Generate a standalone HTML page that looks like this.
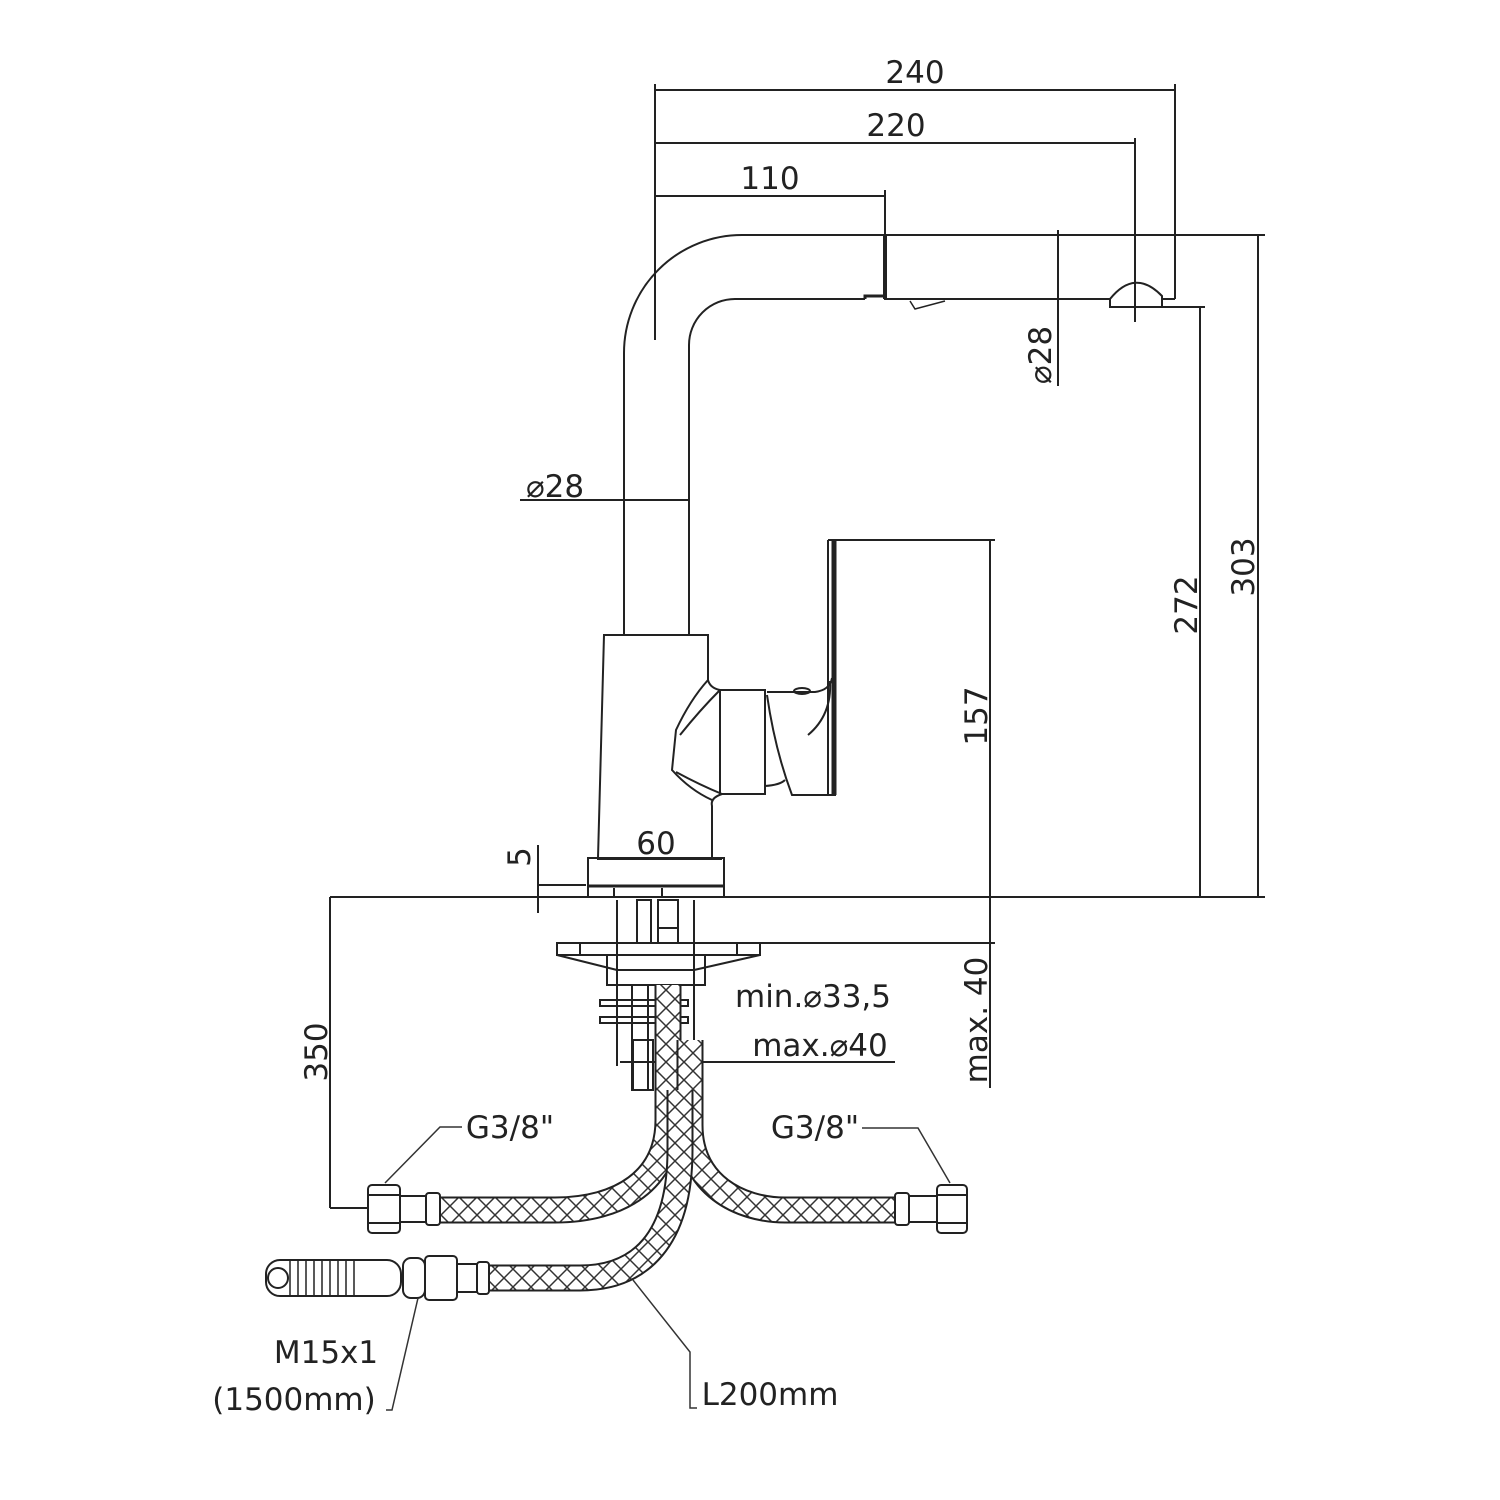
<!DOCTYPE html>
<html><head><meta charset="utf-8"><style>
html,body{margin:0;padding:0;background:#fff}
svg{display:block}
text{font-family:"DejaVu Sans","Liberation Sans",sans-serif;font-size:31px;fill:#222}
</style></head><body>
<svg width="1500" height="1500" viewBox="0 0 1500 1500" xmlns="http://www.w3.org/2000/svg">
<defs>
<pattern id="hx" width="18" height="18" patternUnits="userSpaceOnUse">
<rect width="18" height="18" fill="#fff"/>
<path d="M0,0 L18,18 M18,0 L0,18" stroke="#333" stroke-width="1.5"/>
</pattern>
</defs>
<g fill="none" stroke="#222" stroke-width="2">
<line x1="655" y1="90" x2="1175" y2="90"/>
<line x1="655" y1="143" x2="1135" y2="143"/>
<line x1="655" y1="196" x2="885" y2="196"/>
<line x1="655" y1="84" x2="655" y2="340"/>
<line x1="885" y1="190" x2="885" y2="300"/>
<line x1="885" y1="235" x2="885" y2="299" stroke-width="4"/>
<line x1="1135" y1="138" x2="1135" y2="322"/>
<line x1="1175" y1="84" x2="1175" y2="299"/>
<path d="M624,634 V353 A118,118 0 0 1 742,235 H1265"/>
<path d="M689,634 V345 A46,46 0 0 1 735,299 H865 M885,299 H1110"/>
<path d="M865,299 V296 H885" stroke-width="3"/>
<path d="M910,301 L915,309 L945,301" stroke-width="1.5"/>
<path d="M1110,307 V299 Q1135,268 1162,296 V307 Z"/>
<path d="M1162,299 H1175"/>
<line x1="1110" y1="307" x2="1205" y2="307"/>
<line x1="1058" y1="230" x2="1058" y2="386"/>
<line x1="1200" y1="307" x2="1200" y2="897"/>
<line x1="1258" y1="235" x2="1258" y2="897"/>
<line x1="330" y1="897" x2="1265" y2="897"/>
<line x1="520" y1="500" x2="689" y2="500"/>
<path d="M598,858 L604,635 H708 V680 Q710,688 720,690"/>
<path d="M712,858 V806 Q710,798 722,794"/>
<path d="M708,680 Q690,700 676,730 L672,770 Q690,790 712,800"/>
<path d="M720,690 Q700,710 680,735 M676,772 Q700,785 722,794"/>
<rect x="720" y="690" width="45" height="104"/>
<path d="M767,692 H815 Q830,690 832,678"/>
<path d="M767,695 Q775,750 792,795 H836"/>
<path d="M765,786 Q780,785 785,780"/>
<path d="M830,681 Q832,715 808,735"/>
<ellipse cx="802" cy="691" rx="8" ry="3"/>
<path d="M828,540 V795" stroke-width="2"/>
<path d="M834,540 V795" stroke-width="5"/>
<line x1="828" y1="540" x2="995" y2="540"/>
<line x1="990" y1="540" x2="990" y2="897"/>
<line x1="990" y1="897" x2="990" y2="1088"/>
<line x1="760" y1="943" x2="995" y2="943"/>
<rect x="588" y="858" width="136" height="39"/>
<line x1="588" y1="886" x2="724" y2="886" stroke-width="3"/>
<line x1="614" y1="888" x2="614" y2="897"/><line x1="662" y1="888" x2="662" y2="897"/>
<line x1="597" y1="859" x2="722" y2="859"/>
<line x1="538" y1="845" x2="538" y2="913"/>
<line x1="538" y1="885" x2="586" y2="885"/>
<line x1="617" y1="900" x2="617" y2="1066"/>
<line x1="694" y1="900" x2="694" y2="1066"/>
<rect x="637" y="900" width="14" height="43"/>
<rect x="658" y="900" width="20" height="43"/>
<line x1="658" y1="928" x2="678" y2="928"/>
<rect x="557" y="943" width="203" height="12"/>
<line x1="580" y1="943" x2="580" y2="955"/><line x1="737" y1="943" x2="737" y2="955"/>
<path d="M557,955 L617,970 M760,955 L694,970"/>
<rect x="607" y="955" width="98" height="30"/>
<line x1="617" y1="970" x2="694" y2="970"/>
<rect x="600" y="1000" width="88" height="6"/>
<rect x="600" y="1017" width="88" height="6"/>
<rect x="632" y="985" width="16" height="105"/>
<rect x="633" y="1040" width="20" height="50"/>
<line x1="620" y1="1062" x2="895" y2="1062"/>
<line x1="330" y1="897" x2="330" y2="1208"/>
<line x1="330" y1="1208" x2="368" y2="1208"/>
</g>
<g fill="none">
<path d="M668,985 V1120 C668,1180 620,1210 555,1210 H440" stroke="#222" stroke-width="27"/>
<path d="M668,985 V1120 C668,1180 620,1210 555,1210 H440" stroke="url(#hx)" stroke-width="23"/>
<path d="M690,1040 V1125 C690,1185 740,1210 785,1210 H897" stroke="#222" stroke-width="27"/>
<path d="M690,1040 V1125 C690,1185 740,1210 785,1210 H897" stroke="url(#hx)" stroke-width="23"/>
<path d="M680,1090 V1150 C680,1240 640,1278 580,1278 H487" stroke="#222" stroke-width="27"/>
<path d="M680,1090 V1150 C680,1240 640,1278 580,1278 H487" stroke="url(#hx)" stroke-width="23"/>
</g>
<g fill="#fff" stroke="#222" stroke-width="2">
<rect x="368" y="1185" width="32" height="48" rx="4"/>
<line x1="368" y1="1195" x2="400" y2="1195"/><line x1="368" y1="1223" x2="400" y2="1223"/>
<rect x="400" y="1196" width="26" height="26"/>
<rect x="426" y="1193" width="14" height="32" rx="3"/>
<rect x="895" y="1193" width="14" height="32" rx="3"/>
<rect x="909" y="1196" width="28" height="26"/>
<rect x="937" y="1185" width="30" height="48" rx="4"/>
<line x1="937" y1="1195" x2="967" y2="1195"/><line x1="937" y1="1223" x2="967" y2="1223"/>
<rect x="266" y="1260" width="135" height="36" rx="14"/>
<path d="M290,1260 V1296 M298,1260 V1296 M306,1260 V1296 M314,1260 V1296 M322,1260 V1296 M330,1260 V1296 M338,1260 V1296 M346,1260 V1296 M354,1260 V1296" stroke-width="1.5"/>
<circle cx="278" cy="1278" r="10"/>
<rect x="403" y="1258" width="22" height="40" rx="8"/>
<rect x="425" y="1256" width="32" height="44" rx="4"/>
<rect x="457" y="1264" width="20" height="28"/>
<rect x="477" y="1262" width="12" height="32" rx="3"/>
</g>
<g fill="none" stroke="#333" stroke-width="1.5">
<path d="M462,1127 H440 L385,1183"/>
<path d="M862,1128 H918 L950,1183"/>
<path d="M418,1298 L392,1410 H386"/>
<path d="M633,1280 L690,1352 V1408 H697"/>
</g>
<text x="915" y="83" text-anchor="middle">240</text>
<text x="896" y="136" text-anchor="middle">220</text>
<text x="770" y="189" text-anchor="middle">110</text>
<text x="555" y="497" text-anchor="middle">⌀28</text>
<text x="656" y="854" text-anchor="middle">60</text>
<text transform="translate(1051,355) rotate(-90)" text-anchor="middle">⌀28</text>
<text transform="translate(1197,605) rotate(-90)" text-anchor="middle">272</text>
<text transform="translate(1254,567) rotate(-90)" text-anchor="middle">303</text>
<text transform="translate(987,716) rotate(-90)" text-anchor="middle">157</text>
<text transform="translate(987,1020) rotate(-90)" text-anchor="middle">max. 40</text>
<text transform="translate(327,1052) rotate(-90)" text-anchor="middle">350</text>
<text transform="translate(530,857) rotate(-90)" text-anchor="middle">5</text>
<text x="813" y="1007" text-anchor="middle">min.⌀33,5</text>
<text x="820" y="1056" text-anchor="middle">max.⌀40</text>
<text x="510" y="1138" text-anchor="middle">G3/8"</text>
<text x="815" y="1138" text-anchor="middle">G3/8"</text>
<text x="326" y="1363" text-anchor="middle">M15x1</text>
<text x="294" y="1410" text-anchor="middle">(1500mm)</text>
<text x="770" y="1405" text-anchor="middle">L200mm</text>
</svg>
</body></html>
